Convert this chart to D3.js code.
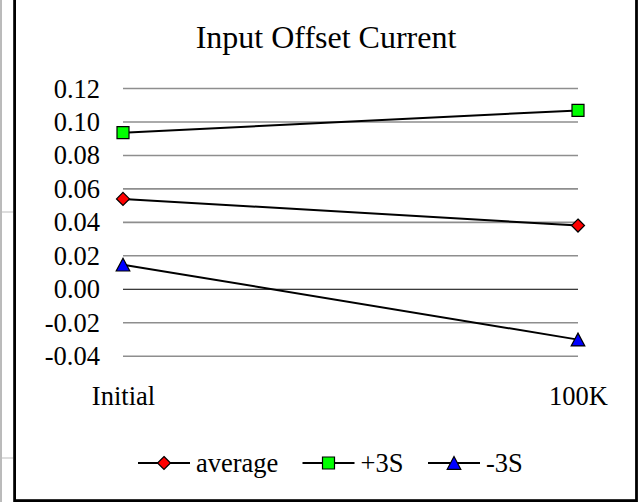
<!DOCTYPE html>
<html>
<head>
<meta charset="utf-8">
<script src="https://cdn.jsdelivr.net/npm/d3@7"></script>
<style>
  body { margin: 0; background: #fff; }
  svg { display: block; font-family: "Liberation Serif", "Times New Roman", serif; }
</style>
</head>
<body>
<div id="chart"></div>
<script>
const title = 'Input Offset Current';
const categories = ['Initial', '100K'];
const average = [0.0537, 0.0378];
const plus3S = [0.0933, 0.1066];
const minus3S = [0.0144, -0.0304];
const yTicks = [-0.04, -0.02, 0, 0.02, 0.04, 0.06, 0.08, 0.10, 0.12];
const seriesNames = ['average', '+3S', '-3S'];

const series = [
  { name: seriesNames[0], values: average, shape: 'diamond', fill: '#ff0000' },
  { name: seriesNames[1], values: plus3S, shape: 'square', fill: '#00ff00' },
  { name: seriesNames[2], values: minus3S, shape: 'triangle', fill: '#0000ff' },
];

const svgWidth = 639;
const svgHeight = 502;

const svg = d3.select('#chart').append('svg')
  .attr('width', svgWidth)
  .attr('height', svgHeight);

// marker shapes, centred on the point
function markerPath(shape) {
  if (shape === 'square') return 'M-6,-6H6V6H-6Z';
  if (shape === 'diamond') return 'M0,-6.5L6.5,0L0,6.5L-6.5,0Z';
  return 'M0,-6.5L6.8,6.3H-6.8Z';
}

// sheet artifacts on the left edge
svg.append('line')
  .attr('x1', 1).attr('x2', 1).attr('y1', 0).attr('y2', svgHeight)
  .attr('stroke', '#777').attr('stroke-width', 1);
[212, 458].forEach(yy => {
  svg.append('line')
    .attr('x1', 0).attr('x2', 13).attr('y1', yy).attr('y2', yy)
    .attr('stroke', '#bbb').attr('stroke-width', 1);
});

// chart frame
svg.append('rect')
  .attr('x', 14.6).attr('y', -10)
  .attr('width', 621.9).attr('height', 510.6)
  .attr('fill', '#fff')
  .attr('stroke', '#000')
  .attr('stroke-width', 2.8);

const x = d3.scalePoint()
  .domain(categories)
  .range([123, 578]);

const y = d3.scaleLinear()
  .domain([-0.04, 0.12])
  .range([355.7, 88]);

svg.append('text')
  .attr('x', 326)
  .attr('y', 48)
  .attr('text-anchor', 'middle')
  .style('font-size', '32px')
  .text(title);

// gridlines + y labels
const yAxis = svg.append('g')
  .attr('transform', 'translate(123,0)')
  .call(
    d3.axisLeft(y)
      .tickValues(yTicks)
      .tickFormat(d => d.toFixed(2))
      .tickSize(-(578 - 123))
      .tickPadding(24)
  );
yAxis.select('.domain').remove();
yAxis.selectAll('.tick line')
  .attr('stroke', d => d === 0 ? '#000' : '#8e8e8e')
  .attr('stroke-width', d => d === 0 ? 1 : 1.6);
yAxis.selectAll('.tick text')
  .attr('x', -23)
  .attr('dy', '0.34em')
  .attr('fill', '#000')
  .style('font-size', '26.5px')
  .style('font-family', '"Liberation Serif", "Times New Roman", serif');

// x labels
const xAxis = svg.append('g')
  .attr('transform', 'translate(0,405)')
  .call(d3.axisBottom(x).tickSize(0).tickPadding(0));
xAxis.select('.domain').remove();
xAxis.selectAll('.tick text')
  .attr('y', 0)
  .attr('dy', 0)
  .attr('fill', '#000')
  .style('font-size', '26.5px')
  .style('font-family', '"Liberation Serif", "Times New Roman", serif');

const line = d3.line()
  .x((d, i) => x(categories[i]))
  .y(d => y(d));

series.forEach(s => {
  svg.append('path')
    .datum(s.values)
    .attr('fill', 'none')
    .attr('stroke', '#000')
    .attr('stroke-width', 2)
    .attr('d', line);

  svg.selectAll(null)
    .data(s.values)
    .enter()
    .append('path')
    .attr('transform', (d, i) => `translate(${x(categories[i])},${y(d)})`)
    .attr('d', markerPath(s.shape))
    .attr('fill', s.fill)
    .attr('stroke', '#000')
    .attr('stroke-width', 1.2);
});

// legend
const legendX = [138, 302.5, 428];
const legend = svg.append('g');
series.forEach((s, i) => {
  const g = legend.append('g').attr('transform', `translate(${legendX[i]},463)`);
  g.append('line')
    .attr('x1', 0).attr('x2', 52)
    .attr('stroke', '#000').attr('stroke-width', 2);
  g.append('path')
    .attr('transform', 'translate(26,0)')
    .attr('d', markerPath(s.shape))
    .attr('fill', s.fill)
    .attr('stroke', '#000')
    .attr('stroke-width', 1.2);
  g.append('text')
    .attr('x', 58)
    .attr('y', 8.5)
    .style('font-size', '26.5px')
    .text(s.name);
});
</script>
</body>
</html>
